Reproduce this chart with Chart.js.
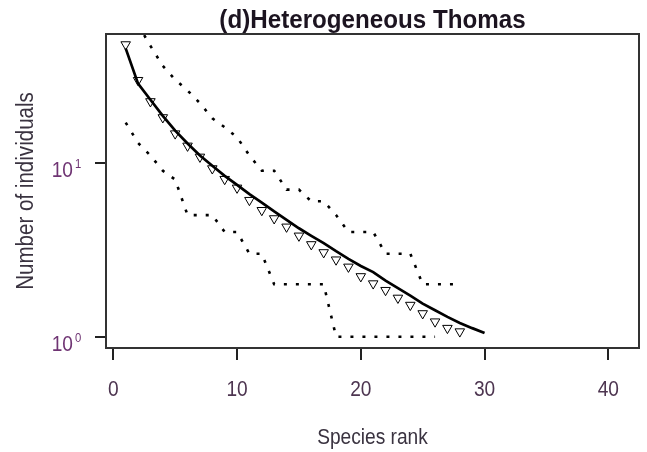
<!DOCTYPE html>
<html>
<head>
<meta charset="utf-8">
<script src="https://cdn.jsdelivr.net/npm/chart.js@4.4.1/dist/chart.umd.min.js"></script>
<style>
html, body { margin: 0; padding: 0; background: #fff; }
#wrap { width: 647px; height: 452px; position: relative; }
</style>
</head>
<body>
<div id="wrap"><canvas id="rad"></canvas></div>
<script>
// Rank abundance curve: observed vs fitted heterogeneous Thomas model
var chartTitle = "(d)Heterogeneous Thomas";
var xTitle = "Species rank";
var yTitle = "Number of individuals";

var obsRank = [1, 2, 3, 4, 5, 6, 7, 8, 9, 10, 11, 12, 13, 14, 15, 16, 17, 18, 19, 20, 21, 22, 23, 24, 25, 26, 27, 28];
var observed = [47.8, 29.8, 22.5, 18.2, 14.7, 12.5, 10.8, 9.26, 8.04, 7.17, 6.09, 5.33, 4.78, 4.28, 3.80, 3.39, 3.05, 2.77, 2.52, 2.22, 2.02, 1.85, 1.67, 1.52, 1.36, 1.22, 1.12, 1.07];

var fitRank = [1, 2, 3, 4, 5, 6, 7, 8, 9, 10, 11, 12, 13, 14, 15, 16, 17, 18, 19, 20, 21, 22, 23, 24, 25, 26, 27, 28, 29, 30];
var fitted = [45.4, 28.5, 23.0, 18.6, 15.3, 12.9, 11.0, 9.6, 8.4, 7.45, 6.6, 5.9, 5.25, 4.7, 4.2, 3.8, 3.45, 3.1, 2.8, 2.55, 2.35, 2.1, 1.9, 1.72, 1.55, 1.42, 1.30, 1.20, 1.12, 1.05];

// simulation envelope (rank 1 of the upper bound is off the plot)
var upperRank = [1, 2, 3, 4, 5, 6, 7, 8, 9, 10, 11, 12, 13, 14, 15, 16, 17, 18, 19, 20, 21, 22, 23, 24, 25, 26, 27, 28];
var upper = [null, 62, 47, 36, 30, 26, 22, 18, 16, 14, 11, 9, 9, 7, 7, 6, 6, 5, 4, 4, 4, 3, 3, 3, 2, 2, 2, 2];
var lowerRank = [1, 2, 3, 4, 5, 6, 7, 8, 9, 10, 11, 12, 13, 14, 15, 16, 17, 18, 19, 20, 21, 22, 23, 24, 25, 26];
var lower = [17, 13, 11, 9, 8, 5, 5, 5, 4, 4, 3, 3, 2, 2, 2, 2, 2, 1, 1, 1, 1, 1, 1, 1, 1, 1];

var xTicks = [0, 10, 20, 30, 40];
var yTicks = [1, 10];
var yTickExp = ["0", "1"];

function pts(xs, ys) {
    return xs.map(function (x, i) { return { x: x, y: ys[i] }; });
}

var FONT = '"Liberation Sans", Arial, sans-serif';

function label(ctx, s, x, y, o) {
    ctx.save();
    ctx.translate(x, y);
    if (o.rot) ctx.rotate(o.rot);
    ctx.scale(o.sx || 1, 1);
    ctx.font = (o.bold ? "bold " : "") + o.size + "px " + FONT;
    ctx.fillStyle = o.color;
    ctx.textAlign = o.align || "center";
    ctx.textBaseline = "alphabetic";
    ctx.fillText(s, 0, 0);
    ctx.restore();
}

// box, titles and tick labels drawn R-style
var rDecor = {
    id: "rDecor",
    afterDraw: function (chart) {
        var ctx = chart.ctx, a = chart.chartArea;
        var xs = chart.scales.x, ys = chart.scales.y;
        ctx.save();
        ctx.strokeStyle = "#333";
        ctx.lineWidth = 2;
        ctx.strokeRect(a.left, a.top, a.right - a.left, a.bottom - a.top);
        ctx.restore();

        var cx = (a.left + a.right) / 2;
        label(ctx, chartTitle, cx, 28, { size: 26, bold: true, sx: 0.93, color: "#1c1420" });
        label(ctx, xTitle, cx, 444, { size: 22, sx: 0.87, color: "#3a3340" });
        label(ctx, yTitle, 33, (a.top + a.bottom) / 2, { size: 23.5, sx: 0.875, rot: -Math.PI / 2, color: "#3a3340" });

        xTicks.forEach(function (v) {
            label(ctx, String(v), xs.getPixelForValue(v), 396, { size: 22, sx: 0.87, color: "#4d3550" });
        });
        yTicks.forEach(function (v, i) {
            var py = ys.getPixelForValue(v);
            label(ctx, "10", 73, py + 14, { size: 22, sx: 0.87, align: "right", color: "#6f3473" });
            label(ctx, yTickExp[i], 75, py + 5, { size: 13, sx: 0.87, align: "left", color: "#6f3473" });
        });
    }
};

var ctx = document.getElementById("rad").getContext("2d");

new Chart(ctx, {
    type: "scatter",
    data: {
        datasets: [
            {
                label: "fitted",
                data: pts(fitRank, fitted),
                showLine: true,
                borderColor: "#000",
                borderWidth: 2.7,
                pointRadius: 0,
                order: 0
            },
            {
                label: "upper",
                data: pts(upperRank, upper),
                showLine: true,
                borderColor: "#000",
                borderWidth: 2.6,
                borderDash: [3, 9],
                pointRadius: 0,
                order: 1
            },
            {
                label: "lower",
                data: pts(lowerRank, lower),
                showLine: true,
                borderColor: "#000",
                borderWidth: 2.6,
                borderDash: [3, 9],
                pointRadius: 0,
                order: 1
            },
            {
                label: "observed",
                data: pts(obsRank, observed),
                showLine: false,
                pointStyle: "triangle",
                rotation: 180,
                pointRadius: 5.5,
                pointBorderWidth: 1,
                pointBackgroundColor: "#fff",
                pointBorderColor: "#000",
                order: 2
            }
        ]
    },
    options: {
        responsive: true,
        maintainAspectRatio: false,
        animation: false,
        devicePixelRatio: 1,
        layout: { padding: { top: 34, right: 8, left: 0, bottom: 0 } },
        plugins: {
            legend: { display: false },
            tooltip: { enabled: false },
            title: { display: false }
        },
        scales: {
            x: {
                type: "linear",
                position: "bottom",
                min: -0.59,
                max: 42.48,
                afterBuildTicks: function (s) { s.ticks = xTicks.map(function (v) { return { value: v }; }); },
                afterFit: function (s) { s.height = 104; },
                ticks: { display: false },
                border: { display: false },
                grid: { drawOnChartArea: false, drawTicks: true, tickLength: 12, color: "#222", lineWidth: 2 }
            },
            y: {
                type: "logarithmic",
                position: "left",
                min: 0.861,
                max: 54.94,
                afterBuildTicks: function (s) { s.ticks = yTicks.map(function (v) { return { value: v }; }); },
                afterFit: function (s) { s.width = 106; },
                ticks: { display: false },
                border: { display: false },
                grid: { drawOnChartArea: false, drawTicks: true, tickLength: 11, color: "#222", lineWidth: 2 }
            }
        }
    },
    plugins: [rDecor]
});
</script>
</body>
</html>
